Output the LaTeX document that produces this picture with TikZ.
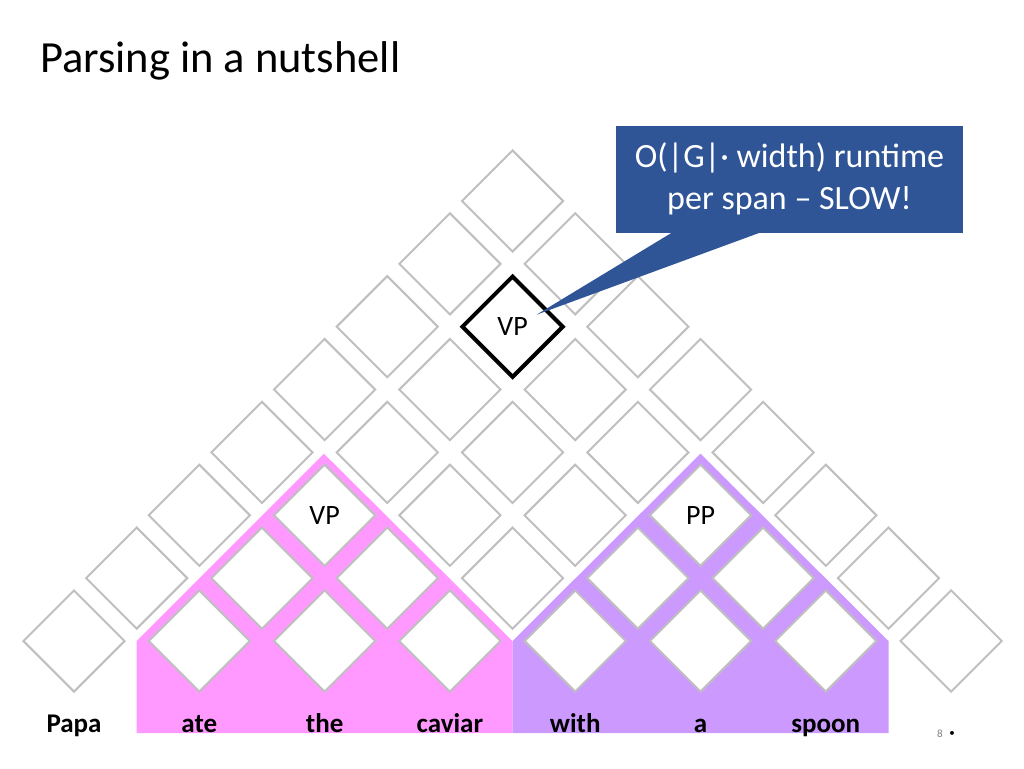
\documentclass[tikz,border=0pt]{standalone}
\usepackage{fontspec}
\setmainfont{Carlito}
\usetikzlibrary{shapes.geometric,calc}
\definecolor{cellgray}{RGB}{191,191,191}
\definecolor{pinkspan}{RGB}{255,153,255}
\definecolor{purplespan}{RGB}{204,153,255}
\definecolor{noteblue}{RGB}{47,85,151}
\begin{document}
\begin{tikzpicture}[x=1pt,y=-1pt,
  cell/.style={shape=diamond, draw=cellgray, line width=2pt, fill=white,
    minimum width=102pt, minimum height=102pt, inner sep=0pt,
    font=\fontsize{28}{32}\selectfont},
  topcell/.style={draw=black, line width=4pt},
  word/.style={anchor=base, inner sep=0pt, font=\bfseries\fontsize{27}{32}\selectfont},
  note/.style={fill=noteblue, text=white, align=center, minimum width=347pt,
    minimum height=107pt, inner sep=0pt, font=\fontsize{34}{42}\selectfont},
  span/.style={draw=none}]
\useasboundingbox (0,0) rectangle (1024,768);
% title
\node[anchor=base west, inner sep=0pt, font=\fontsize{44.5}{52}\selectfont] (title) at (40,72) {Parsing in a nutshell};
% span regions
\fill[pinkspan] (136.65,641) -- (323.9,453.7) -- (512.5,641) -- (512.5,733) -- (136.65,733) -- cycle;
\fill[purplespan] (512.5,641) -- (700.5,453.7) -- (888.5,641) -- (888.5,733) -- (512.5,733) -- cycle;
% chart cells
\foreach \k in {0,...,7}{
  \pgfmathtruncatemacro\n{7-\k}
  \foreach \i in {0,...,\n}{
    \def\lab{}
    \tikzset{cellextra/.style={}}
    \ifnum\k=2 \ifnum\i=1 \def\lab{VP}\fi\ifnum\i=4 \def\lab{PP}\fi\fi
    \ifnum\k=5 \ifnum\i=1 \def\lab{VP}\tikzset{cellextra/.style={topcell}}\fi\fi
    \node[cell,cellextra] (c\k-\i) at ({74+62.65*(\k+2*\i)},{641-62.86*\k}) {\raisebox{-5pt}{\lab}};
  }
}
% words
\foreach \w [count=\j from 0] in {Papa,ate,the,caviar,with,a,spoon}{
  \node[word] (w\j) at ({74+125.3*\j},732) {\w};
}
% callout
\node[note] (note) at (789.5,179) {O(|G|· width) runtime\\per span – SLOW!};
\coordinate (tip) at ($(c5-1.center)+(24,-12)$);
\fill[noteblue] ($(note.south west)+(56,0)$) -- (tip) -- ($(note.south west)+(144,0)$) -- cycle;
% page number
\node[inner sep=0pt, anchor=base, text=gray, font=\fontsize{11}{13}\selectfont] (pg) at (940,737) {8};
\node[inner sep=0pt, anchor=base, font=\fontsize{11}{13}\selectfont] (dot) at (952,736) {•};
\end{tikzpicture}
\end{document}
